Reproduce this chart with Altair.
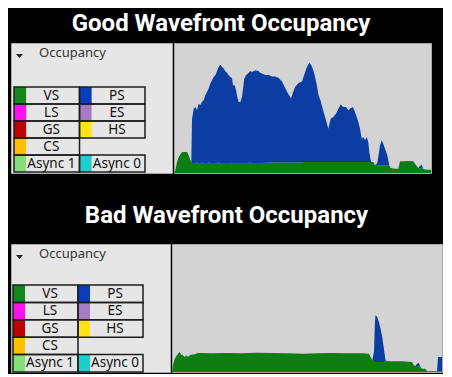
import altair as alt
import pandas as pd

TITLE_GOOD = "Good Wavefront Occupancy"
TITLE_BAD = "Bad Wavefront Occupancy"
HEADER = "Occupancy"

# legend table
legend_names = ["VS", "PS", "LS", "ES", "GS", "HS", "CS", "Async 1", "Async 0"]
legend_colors = ["#12881c", "#0a3cc0", "#ff10f0", "#a77bc4", "#c00000",
                 "#ffe21a", "#ffc000", "#86e07a", "#1ccfcf"]
legend_cols = [0, 1, 0, 1, 0, 1, 0, 0, 1]
legend_rows = [0, 0, 1, 1, 2, 2, 3, 4, 4]

# good occupancy trace (time samples, % of wave slots)
good_t = [0, 1.3, 3, 4.7, 8, 13, 14.7, 16.3, 17.3, 18,
          19.7, 21.3, 23, 24.7, 26.3, 28, 29.7, 31.3, 33, 34.7,
          36.3, 38, 39.7, 41.3, 43, 44.7, 46.3, 48, 49.7, 51.3,
          53, 54.7, 56.3, 58, 59, 60.7, 62, 63.3, 64.7, 66.3,
          68, 69, 70.3, 72, 74, 76.3, 78, 79.7, 81.3, 84.7,
          86.3, 88, 91.3, 94.7, 98, 101.3, 104.7, 108, 111.3, 114.7,
          117, 118.7, 121.3, 124.7, 128, 129.3, 132.7, 135.3, 137.7, 140,
          142.7, 144.3, 146.7, 149.3, 152, 154.3, 156.7, 159.3, 162, 164.3,
          166.7, 169.3, 172, 174.3, 176, 178.7, 180.3, 182.7, 184.3, 186,
          187.7, 189.3, 191, 192.7, 194.3, 195.3, 196.7, 197.5, 199.3, 201,
          203.3, 204.3, 206, 207.7, 209.3, 211, 213.3, 215.3, 216.7, 221,
          224.3, 226, 229.3, 234.3, 239.3, 241, 244.3, 246, 247.7, 249.3,
          252.7, 256, 257]
good_vs = [0, 2.1, 8.6, 12.5, 16.4, 16.4, 13.8, 10.2, 8.6, 7.8,
           7.8, 7.8, 8.0, 7.8, 7.8, 8.0, 7.8, 7.8, 7.8, 8.0,
           7.8, 7.8, 7.8, 7.8, 7.8, 8.0, 7.8, 7.8, 7.8, 7.8,
           7.8, 7.8, 7.8, 8.0, 7.8, 7.8, 7.8, 7.8, 7.8, 7.8,
           7.8, 7.8, 7.8, 7.8, 7.8, 8.0, 7.8, 7.8, 7.8, 7.8,
           7.8, 7.8, 8.0, 8.0, 8.2, 8.2, 8.2, 8.2, 8.2, 8.2,
           8.2, 8.2, 8.2, 8.2, 8.2, 8.6, 8.6, 8.6, 8.6, 8.6,
           8.6, 8.6, 8.6, 8.6, 8.6, 8.6, 8.6, 8.6, 8.6, 8.6,
           8.6, 8.6, 8.6, 8.6, 8.6, 8.6, 8.6, 8.6, 8.6, 8.6,
           8.6, 8.6, 8.6, 8.6, 8.6, 8.6, 8.6, 8.6, 8.6, 6.0,
           6.0, 6.0, 6.0, 6.0, 6.0, 6.0, 6.0, 6.0, 3.9, 3.4,
           3.4, 9.1, 9.1, 9.4, 9.1, 7.3, 3.9, 3.7, 3.7, 3.1,
           2.6, 2.6, 2.6]
good_ps = [0, 0, 0, 0, 0, 0, 0, 0, 0, 34.4,
           42.4, 43.8, 41.2, 46.3, 45.1, 47.7, 49.0, 52.9, 55.5, 58.0,
           62.0, 64.6, 67.2, 68.5, 71.6, 75.0, 76.8, 75.0, 73.7, 71.6,
           70.5, 68.5, 67.2, 65.9, 60.7, 60.7, 56.8, 51.6, 47.7, 47.7,
           51.6, 58.0, 65.9, 68.5, 69.8, 71.6, 71.1, 71.6, 72.4, 71.6,
           70.5, 69.8, 68.5, 68.5, 67.2, 67.2, 65.9, 63.3, 58.0, 52.9,
           50.2, 54.1, 59.4, 62.0, 63.3, 65.9, 73.7, 77.6, 75.0, 69.8,
           60.7, 52.9, 47.7, 39.8, 32.6, 26.0, 33.8, 35.2, 37.7, 41.6,
           44.8, 43.0, 43.0, 40.4, 41.6, 43.0, 40.4, 35.2, 31.3, 26.0,
           18.2, 19.5, 17.0, 19.5, 15.6, 7.8, 1.3, 0, 0, 0,
           1.8, 6.5, 15.6, 19.5, 16.9, 13.0, 7.8, 0, 0, 0,
           0, 0, 0, 0, 0, 0, 0, 1.8, 2.8, 0,
           0, 0, 0]

# bad occupancy trace
bad_t = [0, 1, 2.7, 6, 7.7, 9.3, 11, 12.7, 14.3, 16,
         17.7, 19.3, 22.7, 26, 29.3, 40, 55, 70, 85, 100,
         115, 131, 145, 160, 175, 191, 197.7, 199.3, 201, 202.7,
         203.7, 204.3, 206, 207.7, 209.3, 211, 212.7, 214.3, 217.7, 231,
         241, 242.7, 244.3, 246, 247.7, 249.3, 251, 254.3, 256, 266,
         267, 269.3, 271]
bad_vs = [0, 5.3, 10.6, 14.5, 15.9, 13.7, 13.3, 11.9, 13.3, 11.9,
          13.3, 13.7, 14.1, 15.1, 15.1, 14.8, 15.1, 14.8, 15.3, 15.1,
          14.8, 14.5, 14.8, 15.1, 14.8, 14.8, 14.5, 11.9, 9.3, 7.9,
          7.9, 7.9, 7.9, 7.9, 7.9, 7.9, 7.9, 8.7, 8.5, 8.5,
          7.9, 5.3, 4.8, 4.8, 4.8, 4.0, 2.6, 2.6, 0.6, 0.6,
          0.6, 0.6, 0.6]
bad_ps = [0, 0, 0, 0, 0, 0, 0, 0, 0, 0,
          0, 0, 0, 0, 0, 0, 0, 0, 0, 0,
          0, 0, 0, 0, 0, 0, 0, 0, 0, 7.9,
          31.8, 37.1, 35.7, 31.8, 26.4, 19.9, 10.6, 0.5, 0, 0,
          0, 0, 0, 1.8, 2.6, 0, 0, 0, 0, 0,
          11.3, 11.3, 11.3]

GREEN = "#0f7d14"
BLUE = "#0b3da3"
FONT_UI = "Noto Sans"

legend_df = pd.DataFrame({"name": legend_names, "color": legend_colors,
                          "col": legend_cols, "row": legend_rows})


def area_df(t, vs, ps):
    rows = []
    for ti, v, p in zip(t, vs, ps):
        rows.append({"t": ti, "series": "VS", "value": v, "ord": 0})
        rows.append({"t": ti, "series": "PS", "value": p, "ord": 1})
    return pd.DataFrame(rows)


def plot_chart(t, vs, ps, w, h, ymax):
    df = area_df(t, vs, ps)
    return alt.Chart(df).mark_area(interpolate="linear").encode(
        x=alt.X("t:Q", scale=alt.Scale(domain=[0, max(t)], nice=False, zero=False), axis=None),
        y=alt.Y("value:Q", stack="zero", scale=alt.Scale(domain=[0, ymax], nice=False), axis=None),
        color=alt.Color("series:N", scale=alt.Scale(domain=["VS", "PS"], range=[GREEN, BLUE]), legend=None),
        order=alt.Order("ord:Q"),
    ).properties(width=w, height=h,
                 view=alt.ViewBackground(fill="#d3d3d3", stroke="#a8a8a8"))


def left_pane(w, h, xr, yr):
    xs = alt.Scale(domain=[0, 2], range=xr, nice=False, zero=False)
    ys = alt.Scale(domain=[0, 5], range=yr, nice=False, zero=False)
    base = alt.Chart(legend_df).transform_calculate(
        x1="datum.col + 1", sw="datum.col + 0.185",
        tx="datum.col + 0.57", y1="datum.row + 1", ty="datum.row + 0.5")
    cell = base.mark_rect(fill="#e6e6e6").encode(
        x=alt.X("col:Q", scale=xs, axis=None), x2="x1:Q",
        y=alt.Y("row:Q", scale=ys, axis=None), y2="y1:Q")
    swatch = base.mark_rect().encode(
        x=alt.X("col:Q", scale=xs, axis=None), x2="sw:Q",
        y=alt.Y("row:Q", scale=ys, axis=None), y2="y1:Q",
        color=alt.Color("color:N", scale=None))
    border = base.mark_rect(fillOpacity=0, stroke="#1e1e1e", strokeWidth=1.5).encode(
        x=alt.X("col:Q", scale=xs, axis=None), x2="x1:Q",
        y=alt.Y("row:Q", scale=ys, axis=None), y2="y1:Q")
    label = base.mark_text(font=FONT_UI, fontSize=13.5, color="#111111", baseline="middle").encode(
        x=alt.X("tx:Q", scale=xs, axis=None),
        y=alt.Y("ty:Q", scale=ys, axis=None),
        text="name:N")
    one = alt.Chart(pd.DataFrame({"k": [0]}))
    header = one.mark_text(font=FONT_UI, fontSize=13, color="#333333", align="left",
                           baseline="middle").encode(
        x=alt.value(28), y=alt.value(10), text=alt.value(HEADER))
    arrow = one.mark_point(shape="M-1,-0.6L1,-0.6L0,0.6Z", filled=True, size=49,
                           color="#222222", opacity=1).encode(
        x=alt.value(8.5), y=alt.value(13))
    return alt.layer(cell, swatch, border, label, header, arrow).properties(
        width=w, height=h, view=alt.ViewBackground(fill="#e6e6e6", stroke="#a8a8a8"))


def title(text, offset):
    return alt.TitleParams(text=text, font="Roboto", fontSize=24, fontWeight="bold",
                           color="white", anchor="middle", baseline="top", offset=offset)


panel_good = alt.hconcat(
    left_pane(161, 130, [3, 134], [44, 129]),
    plot_chart(good_t, good_vs, good_ps, 257, 130, 101.5),
    spacing=0, title=title(TITLE_GOOD, 7))

panel_bad = alt.hconcat(
    left_pane(159, 128, [2, 132], [41, 128]),
    plot_chart(bad_t, bad_vs, bad_ps, 270, 128, 101.6),
    spacing=0, title=title(TITLE_BAD, 16))

chart = alt.vconcat(panel_good, panel_bad, spacing=29).properties(
    background="black",
    padding={"left": 2, "top": 3, "right": 0, "bottom": 0},
)

chart.save("out.html", embed_options={"renderer": "svg", "actions": False})
